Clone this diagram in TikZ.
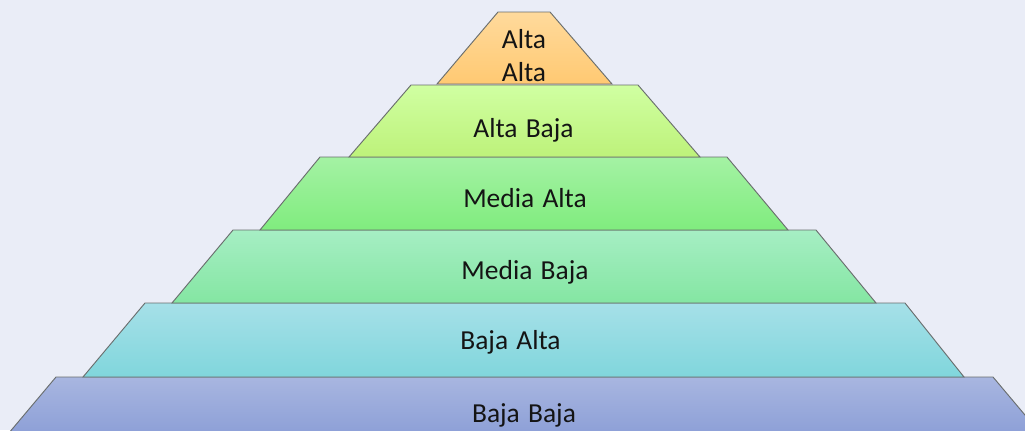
\documentclass[tikz,border=0pt]{standalone}
\usepackage{fontspec}
\setmainfont{Carlito}
\newcommand{\lblfont}{\fontsize{20.6}{25}\selectfont\spaceskip=0.3em plus 0.1em\relax}
\definecolor{bgc}{HTML}{EAEDF7}
\definecolor{edgec}{HTML}{6A6E6E}
\definecolor{txtc}{HTML}{141414}
\definecolor{aT}{HTML}{FFDA9C}\definecolor{aB}{HTML}{FFC972}
\definecolor{bT}{HTML}{D0FFA2}\definecolor{bB}{HTML}{BDF27A}
\definecolor{cT}{HTML}{A4F2A4}\definecolor{cB}{HTML}{80EC7E}
\definecolor{dT}{HTML}{A6EEC4}\definecolor{dB}{HTML}{84E6A2}
\definecolor{eT}{HTML}{A6E0E8}\definecolor{eB}{HTML}{80D6DC}
\definecolor{fT}{HTML}{A8B6E0}\definecolor{fB}{HTML}{8A9DD6}
\tikzset{
  layer/.style={draw=edgec, line width=0.7pt, line join=miter},
  lbl/.style={anchor=base, text=txtc, font=\lblfont, inner sep=0pt}
}
\begin{document}
\begin{tikzpicture}[x=0.75pt,y=-0.75pt]
\useasboundingbox (0,0) rectangle (1025,430);
\fill[bgc] (0,0) rectangle (1025,430);
\clip (0,0) rectangle (1025,430);
% layer 6
\shade[top color=fT, bottom color=fB] (56,377) -- (993,377) -- (1046,440) -- (3,440) -- cycle;
\draw[layer] (3,440) -- (56,377) -- (993,377) -- (1046,440);
% layer 5
\shade[top color=eT, bottom color=eB] (145,303) -- (905,303) -- (964,377) -- (83,377) -- cycle;
\draw[layer] (145,303) -- (905,303) -- (964,377) -- (83,377) -- cycle;
% layer 4
\shade[top color=dT, bottom color=dB] (233,230) -- (816,230) -- (876,303) -- (172,303) -- cycle;
\draw[layer] (233,230) -- (816,230) -- (876,303) -- (172,303) -- cycle;
% layer 3
\shade[top color=cT, bottom color=cB] (320,157) -- (727,157) -- (788,230) -- (260,230) -- cycle;
\draw[layer] (320,157) -- (727,157) -- (788,230) -- (260,230) -- cycle;
% layer 2
\shade[top color=bT, bottom color=bB] (411,85) -- (638,85) -- (700,157) -- (349,157) -- cycle;
\draw[layer] (411,85) -- (638,85) -- (700,157) -- (349,157) -- cycle;
% layer 1
\shade[top color=aT, bottom color=aB] (498,12) -- (550,12) -- (612,84) -- (437,84) -- cycle;
\draw[layer] (498,12) -- (550,12) -- (612,84) -- (437,84) -- cycle;
% labels
\node[lbl] (l1a) at (524,48.3) {Alta};
\node[lbl] (l1b) at (524,81.7) {Alta};
\node[lbl] (l2) at (523.5,137.3) {Alta Baja};
\node[lbl] (l3) at (525,207.3) {Media Alta};
\node[lbl] (l4) at (525,279.3) {Media Baja};
\node[lbl] (l5) at (510.5,349.3) {Baja Alta};
\node[lbl] (l6) at (524,422.3) {Baja Baja};
\end{tikzpicture}
\end{document}
